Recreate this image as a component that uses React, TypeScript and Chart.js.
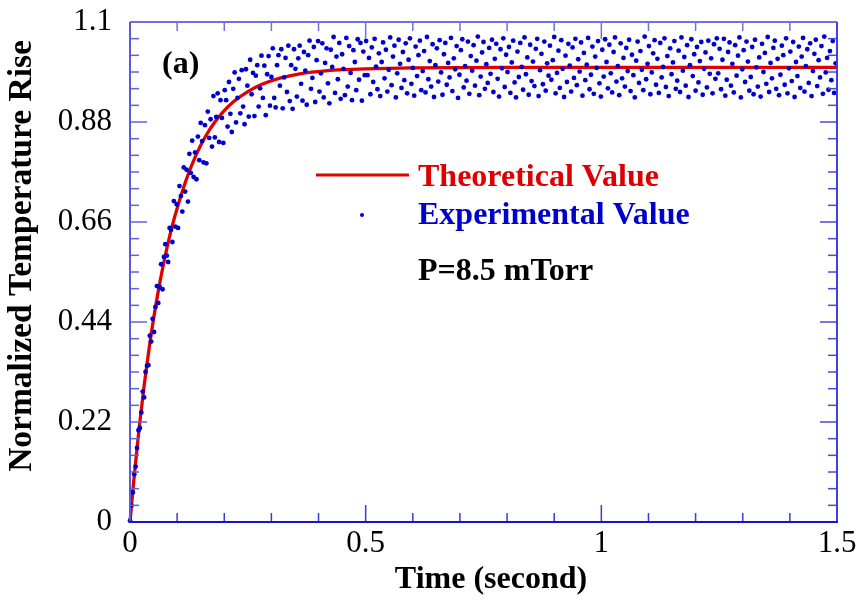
import React, { useEffect, useRef } from "react";
import { Chart, registerables } from "chart.js";
Chart.register(...registerables);

const SERIF = '"Liberation Serif", "Times New Roman", serif';

// sampling period of the experimental record (seconds)
const SAMPLE_INTERVAL = 0.003;

const experimentalValues = [
  0.003, 0.036, 0.065, 0.105, 0.122, 0.163, 0.202, 0.207, 0.241, 0.287,
  0.274, 0.33, 0.344, 0.345, 0.41, 0.397, 0.447, 0.418, 0.473, 0.519,
  0.482, 0.517, 0.567, 0.512, 0.583, 0.611, 0.586, 0.572, 0.647, 0.643,
  0.616, 0.706, 0.65, 0.699, 0.647, 0.739, 0.717, 0.683, 0.78, 0.727,
  0.775, 0.705, 0.81, 0.768, 0.839, 0.759, 0.813, 0.754, 0.848, 0.796,
  0.878, 0.838, 0.791, 0.873, 0.789, 0.903, 0.845, 0.886, 0.826, 0.937,
  0.846, 0.891, 0.943, 0.836, 0.928, 0.889, 0.834, 0.95, 0.928, 0.87,
  0.968, 0.898, 0.858, 0.953, 0.989, 0.879, 0.933, 0.975, 0.899, 0.994,
  0.914, 0.875, 0.996, 0.96, 0.892, 1.017, 0.941, 0.988, 0.893, 0.982,
  1.005, 0.914, 0.954, 1.026, 0.933, 1.004, 0.895, 0.985, 1.025, 0.916,
  0.979, 1.042, 0.933, 0.912, 1.005, 1.027, 0.96, 1.04, 0.91, 0.978,
  1.021, 0.946, 1.048, 0.926, 1.005, 0.909, 1.04, 0.997, 0.936, 1.02,
  1.048, 0.964, 0.927, 1.034, 0.993, 0.918, 1.027, 1.059, 0.953, 0.977,
  1.045, 0.924, 1.016, 1.058, 0.947, 0.987, 1.053, 0.934, 1.01, 1.042,
  0.965, 0.921, 1.039, 1.001, 1.067, 0.944, 1.024, 0.974, 1.054, 0.931,
  1.029, 0.997, 0.939, 1.065, 0.958, 1.047, 0.988, 0.928, 1.038, 1.012,
  0.95, 1.062, 0.973, 1.054, 0.927, 1.035, 0.983,
  1.058, 0.983, 1.021, 0.941, 1.044, 0.968, 1.063, 1.002, 0.952, 1.031,
  0.937, 1.012, 1.055, 0.976, 1.039, 0.947, 0.995, 1.066, 0.961, 1.024,
  1.048, 0.934, 0.987, 1.061, 1.008, 0.955, 1.034, 0.972, 1.053, 0.943,
  1.017, 1.064, 0.964, 0.999, 0.938, 1.046, 0.981, 1.027, 1.059, 0.95,
  0.992, 1.036, 0.945, 1.067, 0.974, 1.014, 0.958, 1.051, 0.935, 1.005,
  1.042, 0.969, 1.06, 0.989, 0.94, 1.029, 1.054, 0.962, 1.01, 0.978,
  1.065, 0.948, 1.02, 0.996, 1.047, 0.933, 0.984, 1.038, 1.062, 0.956,
  1.003, 0.971, 1.057, 0.942, 1.025, 0.993, 1.049, 0.96, 1.015, 1.068,
  0.939, 0.98, 1.033, 1.056, 0.953, 1.007, 0.966, 1.043, 0.986, 1.061,
  0.946, 1.019, 1.052, 0.975, 0.936, 1.04, 0.998, 1.064, 0.957, 1.028,
  0.99, 1.045, 0.944, 1.011, 1.059, 0.967, 0.934, 1.035, 0.979, 1.054,
  1.001, 0.951, 1.066, 0.985, 1.022, 0.94, 1.05, 0.97, 1.013, 0.959,
  1.041, 1.063, 0.937, 0.994, 1.03, 0.963, 1.057, 0.949, 1.009, 0.982,
  1.048, 0.973, 1.016, 1.067, 0.943, 0.988, 1.037, 0.955, 1.06, 0.997,
  0.935, 1.026, 0.968, 1.052, 1.004, 0.947, 1.044, 0.977, 1.063, 0.961,
  1.018, 0.991, 1.055, 0.938, 1.032, 0.972, 1.006, 1.065, 0.952, 0.984,
  1.046, 0.942, 1.024, 0.999, 1.058, 0.965, 0.936, 1.039, 0.98, 1.062,
  1.012, 0.954, 1.05, 0.987, 0.945, 1.034, 1.066, 0.969, 1.003, 0.939,
  1.053, 0.976, 1.021, 0.958, 1.043, 0.992, 1.061, 0.948, 1.028, 0.983,
  0.934, 1.015, 1.057, 0.966, 1.036, 0.995, 0.95, 1.068, 0.974, 1.008,
  1.047, 0.941, 0.989, 1.031, 1.06, 0.962, 1.019, 0.944, 1.054, 0.978,
  1.001, 1.064, 0.957, 1.025, 0.937, 1.042, 0.985, 1.011, 1.058, 0.953,
  0.971, 1.037, 0.946, 1.066, 0.993, 1.023, 0.96, 1.049, 0.935, 1.005,
  1.062, 0.981, 1.029, 0.949, 1.045, 0.967, 1.014, 1.056, 0.94, 0.997,
  1.033, 0.956, 1.059, 0.986, 1.02, 0.943, 1.051, 0.975, 1.064,
  0.987, 1.041, 0.952, 1.017, 1.063, 0.938, 0.973, 1.034, 1.055, 0.96,
  1.008, 0.945, 1.049, 0.982, 1.026, 1.066, 0.934, 0.996, 1.038, 0.968,
  1.057, 1.013, 0.949, 0.979, 1.045, 0.941, 1.061, 1.0, 0.958, 1.022,
  0.936, 1.052, 0.99, 1.032, 0.964, 1.067, 0.946, 1.01, 0.976, 1.043,
  1.059, 0.953, 1.019, 0.939, 0.984, 1.048, 1.027, 0.962, 1.064, 0.943,
  0.998, 1.035, 0.97, 1.056, 0.935, 1.012, 0.981, 1.046, 0.955, 1.024,
  1.065, 0.947, 1.003, 1.04, 0.966, 1.053, 0.937, 0.992, 1.03, 1.061,
  0.959, 1.016, 0.978, 1.047, 0.942, 1.068, 0.989, 1.021, 0.951, 1.036,
  0.972, 1.058, 0.944, 1.009,
];

const theoryTime = [
  0, 0.005, 0.01, 0.02, 0.03, 0.04, 0.05, 0.06, 0.07, 0.08, 0.09, 0.1, 0.12, 0.14,
  0.16, 0.18, 0.2, 0.22, 0.25, 0.28, 0.32, 0.36, 0.4, 0.45, 0.5, 0.6, 0.8, 1.0, 1.5,
];
const theoryValue = [
  0, 0.057, 0.112, 0.212, 0.3, 0.378, 0.447, 0.508, 0.562, 0.61, 0.653, 0.69, 0.755, 0.807,
  0.848, 0.88, 0.905, 0.925, 0.947, 0.963, 0.977, 0.986, 0.991, 0.995, 0.997, 0.999, 1.0, 1.0, 1.0,
];

const xTickValues = [0, 0.5, 1, 1.5];
const xTickLabels = ["0", "0.5", "1", "1.5"];
const yTickValues = [0, 0.22, 0.44, 0.66, 0.88, 1.1];
const yTickLabels = ["0", "0.22", "0.44", "0.66", "0.88", "1.1"];
const X_MINOR_PER_MAJOR = 5;
const Y_MINOR_PER_MAJOR = 6;

const X_TITLE = "Time (second)";
const Y_TITLE = "Normalized Temperature Rise";

const framePlugin = {
  id: "frame",
  afterDatasetsDraw(chart: any) {
    const { ctx, chartArea, scales } = chart;
    const { left, right, top, bottom } = chartArea;
    const xs = scales.x;
    const ys = scales.y;
    ctx.save();
    ctx.lineCap = "butt";
    const MAJ = 17;
    const MIN = 9;
    const tick = (x1: number, y1: number, x2: number, y2: number, color: string) => {
      ctx.strokeStyle = color;
      ctx.lineWidth = 1.5;
      ctx.beginPath();
      ctx.moveTo(x1, y1);
      ctx.lineTo(x2, y2);
      ctx.stroke();
    };
    for (let i = 0; i < xTickValues.length; i++) {
      const v = xTickValues[i];
      const px = xs.getPixelForValue(v);
      tick(px, bottom, px, bottom - MAJ, "#3a3ad8");
      tick(px, top, px, top + MAJ, "#7070e0");
      if (i < xTickValues.length - 1) {
        const step = (xTickValues[i + 1] - v) / X_MINOR_PER_MAJOR;
        for (let k = 1; k < X_MINOR_PER_MAJOR; k++) {
          const mx = xs.getPixelForValue(v + k * step);
          tick(mx, bottom, mx, bottom - MIN, "#3a3ad8");
          tick(mx, top, mx, top + MIN, "#7070e0");
        }
      }
    }
    for (let i = 0; i < yTickValues.length; i++) {
      const v = yTickValues[i];
      const py = ys.getPixelForValue(v);
      tick(left, py, left + MAJ, py, "#6060e0");
      tick(right, py, right - MAJ, py, "#4848dc");
      if (i < yTickValues.length - 1) {
        const step = (yTickValues[i + 1] - v) / Y_MINOR_PER_MAJOR;
        for (let k = 1; k < Y_MINOR_PER_MAJOR; k++) {
          const my = ys.getPixelForValue(v + k * step);
          tick(left, my, left + MIN, my, "#6060e0");
          tick(right, my, right - MIN, my, "#4848dc");
        }
      }
    }
    ctx.lineWidth = 2;
    ctx.strokeStyle = "#7070e0";
    ctx.beginPath(); ctx.moveTo(left, top); ctx.lineTo(right, top); ctx.stroke();
    ctx.strokeStyle = "#5a5ae0";
    ctx.beginPath(); ctx.moveTo(left, top); ctx.lineTo(left, bottom); ctx.stroke();
    ctx.strokeStyle = "#4040dc";
    ctx.beginPath(); ctx.moveTo(right, top); ctx.lineTo(right, bottom); ctx.stroke();
    ctx.strokeStyle = "#1414cc";
    ctx.beginPath(); ctx.moveTo(left - 1, bottom); ctx.lineTo(right + 1, bottom); ctx.stroke();
    ctx.restore();
  },
  afterDraw(chart: any) {
    const { ctx, chartArea } = chart;
    const { left, top } = chartArea;
    ctx.save();
    ctx.textBaseline = "middle";
    ctx.textAlign = "left";
    ctx.font = `bold 32px ${SERIF}`;
    ctx.fillStyle = "#000000";
    ctx.fillText("(a)", left + 32, top + 43);
    // legend
    ctx.strokeStyle = "#e00000";
    ctx.lineWidth = 3;
    ctx.beginPath();
    ctx.moveTo(left + 186, top + 153);
    ctx.lineTo(left + 279, top + 153);
    ctx.stroke();
    ctx.fillStyle = "#dd0000";
    ctx.fillText("Theoretical Value", left + 288, top + 156);
    ctx.fillStyle = "#0000cc";
    ctx.beginPath();
    ctx.arc(left + 232, top + 193, 2, 0, Math.PI * 2);
    ctx.fill();
    ctx.fillText("Experimental Value", left + 288, top + 194);
    ctx.fillStyle = "#000000";
    ctx.fillText("P=8.5 mTorr", left + 288, top + 250);
    // axis titles
    ctx.textAlign = "center";
    ctx.font = `bold 32px ${SERIF}`;
    ctx.fillText(X_TITLE, left + 361, 580);
    ctx.save();
    ctx.translate(22, top + 234);
    ctx.rotate(-Math.PI / 2);
    ctx.font = `bold 33.5px ${SERIF}`;
    ctx.fillText(Y_TITLE, 0, 0);
    ctx.restore();
    ctx.restore();
  },
};

export default function App() {
  const ref = useRef<HTMLCanvasElement | null>(null);
  useEffect(() => {
    if (!ref.current) return;
    const expData = experimentalValues.map((v, i) => ({ x: i * SAMPLE_INTERVAL, y: v }));
    const theoryData = theoryTime.map((t, i) => ({ x: t, y: theoryValue[i] }));
    const chart = new Chart(ref.current, {
      type: "scatter",
      data: {
        datasets: [
          {
            type: "line",
            label: "Theoretical Value",
            data: theoryData,
            borderColor: "#e00000",
            borderWidth: 3.3,
            pointRadius: 0,
            showLine: true,
            fill: false,
            cubicInterpolationMode: "monotone",
            order: 2,
            clip: 3,
          } as any,
          {
            type: "scatter",
            label: "Experimental Value",
            data: expData,
            backgroundColor: "#0000cc",
            borderWidth: 0,
            pointRadius: 2.4,
            pointHoverRadius: 2.4,
            order: 1,
            clip: 4,
          } as any,
        ],
      },
      options: {
        animation: false,
        responsive: false,
        maintainAspectRatio: false,
        layout: { padding: { top: 22, right: 23, left: 0, bottom: 0 } },
        plugins: { legend: { display: false }, tooltip: { enabled: false } },
        scales: {
          x: {
            type: "linear",
            min: 0,
            max: 1.5,
            afterBuildTicks: (s: any) => {
              s.ticks = xTickValues.map((v) => ({ value: v }));
            },
            afterFit: (s: any) => {
              s.height = 79;
              s.paddingLeft = 0;
              s.paddingRight = 0;
            },
            ticks: {
              callback: (v: any) => {
                const i = xTickValues.indexOf(Number(v));
                return i >= 0 ? xTickLabels[i] : "";
              },
              font: { family: SERIF, size: 31 },
              color: "#000000",
              padding: 3,
              maxRotation: 0,
              autoSkip: false,
            },
            grid: { display: false, drawTicks: false },
            border: { display: false },
            title: { display: false },
          },
          y: {
            type: "linear",
            min: 0,
            max: 1.1,
            afterBuildTicks: (s: any) => {
              s.ticks = yTickValues.map((v) => ({ value: v }));
            },
            afterFit: (s: any) => {
              s.width = 130;
              s.paddingTop = 0;
              s.paddingBottom = 0;
            },
            ticks: {
              callback: (v: any) => {
                const i = yTickValues.findIndex((t) => Math.abs(t - Number(v)) < 1e-9);
                return i >= 0 ? yTickLabels[i] : "";
              },
              font: { family: SERIF, size: 31 },
              color: "#000000",
              padding: 18,
              autoSkip: false,
            },
            grid: { display: false, drawTicks: false },
            border: { display: false },
            title: { display: false },
          },
        },
      } as any,
      plugins: [framePlugin],
    });
    return () => chart.destroy();
  }, []);
  return (
    <div style={{ position: "absolute", left: 0, top: 0, width: 860, height: 601, background: "#ffffff" }}>
      <canvas ref={ref} width={860} height={601} style={{ display: "block" }} />
    </div>
  );
}
